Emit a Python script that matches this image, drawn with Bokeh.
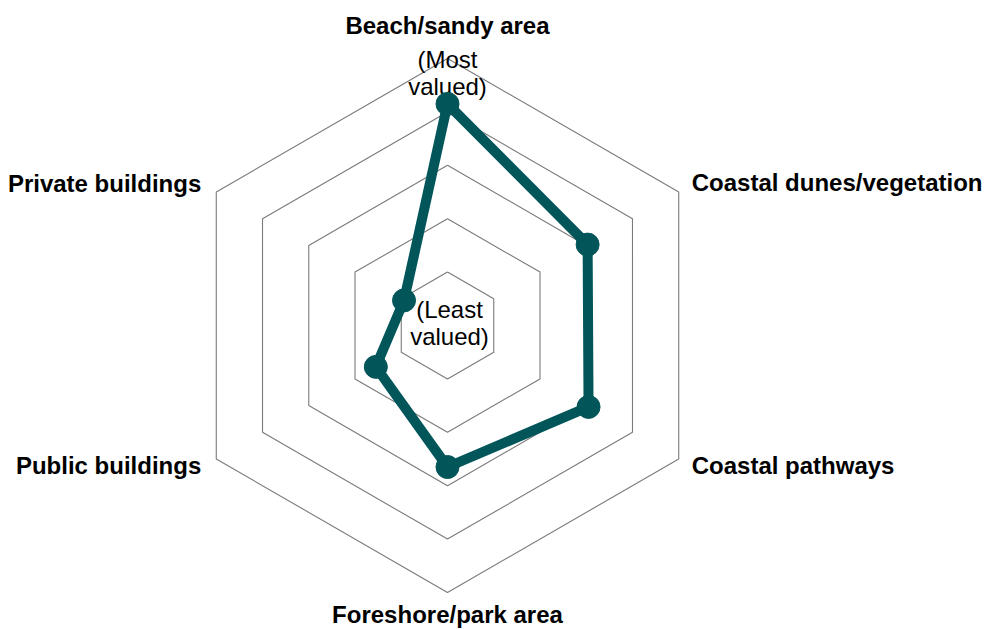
import numpy as np
from bokeh.plotting import figure
from bokeh.models import Range1d, ColumnDataSource
from bokeh.core.properties import value
from bokeh.embed import file_html
from bokeh.resources import INLINE

categories = ["Beach/sandy area", "Coastal dunes/vegetation", "Coastal pathways",
              "Foreshore/park area", "Public buildings", "Private buildings"]
values = [4.15, 3.03, 3.05, 2.65, 1.55, 0.94]
ring_levels = [1, 2, 3, 4, 5]

W, H = 986, 629
unit = 53.4          # pixels per value unit
cx, cy = 447, 325    # centre in figure pixels (from top-left)

p = figure(width=W, height=H, output_backend="svg", toolbar_location=None,
           x_range=Range1d(-cx / unit, (W - cx) / unit),
           y_range=Range1d(-(H - cy) / unit, cy / unit),
           min_border=0, outline_line_color=None)
p.axis.visible = False
p.xgrid.visible = False
p.ygrid.visible = False
p.background_fill_color = "white"
p.border_fill_color = "white"

n = len(categories)
angles = np.pi / 2 - np.arange(n) * 2 * np.pi / n

# grid hexagons
xs_r, ys_r = [], []
for r in ring_levels:
    xs_r.append(list(r * np.cos(angles)) + [r * np.cos(angles[0])])
    ys_r.append(list(r * np.sin(angles)) + [r * np.sin(angles[0])])
p.multi_line(xs_r, ys_r, line_color="#7a7a7a", line_width=1.1)

# category labels
rmax = ring_levels[-1]
lab_x = list(rmax * np.cos(angles))
lab_y = list(rmax * np.sin(angles))
aligns = ["center", "left", "left", "center", "right", "right"]
xoffs = [0, 13, 13, 0, -15, -15]
yoffs = [-33, -9.5, 6.5, 22, 6.5, -9]
src = ColumnDataSource(dict(x=lab_x, y=lab_y, t=categories, a=aligns, xo=xoffs, yo=yoffs))
p.text("x", "y", text="t", source=src, text_align="a", x_offset="xo", y_offset="yo",
       text_baseline="middle", text_font=value("Liberation Sans"),
       text_font_style="bold", text_font_size="24px", text_color="black")

# scale annotations
p.text([0], [rmax], text=["(Most\nvalued)"], text_align="center", text_baseline="middle",
       y_offset=14, text_font=value("Liberation Sans"), text_font_size="24px",
       text_line_height=1.0, text_color="black")
p.text([0], [0], text=["(Least\nvalued)"], text_align="center", text_baseline="middle",
       x_offset=2, y_offset=-3, text_font=value("Liberation Sans"), text_font_size="24px",
       text_line_height=1.0, text_color="black")

# data polygon
vx = [v * np.cos(a) for v, a in zip(values, angles)]
vy = [v * np.sin(a) for v, a in zip(values, angles)]
teal = "#02565A"
p.line(vx + [vx[0]], vy + [vy[0]], line_color=teal, line_width=10, line_join="round")
p.scatter(vx, vy, size=23, fill_color=teal, line_color=teal)

open("out.html", "w").write(file_html(p, INLINE))
